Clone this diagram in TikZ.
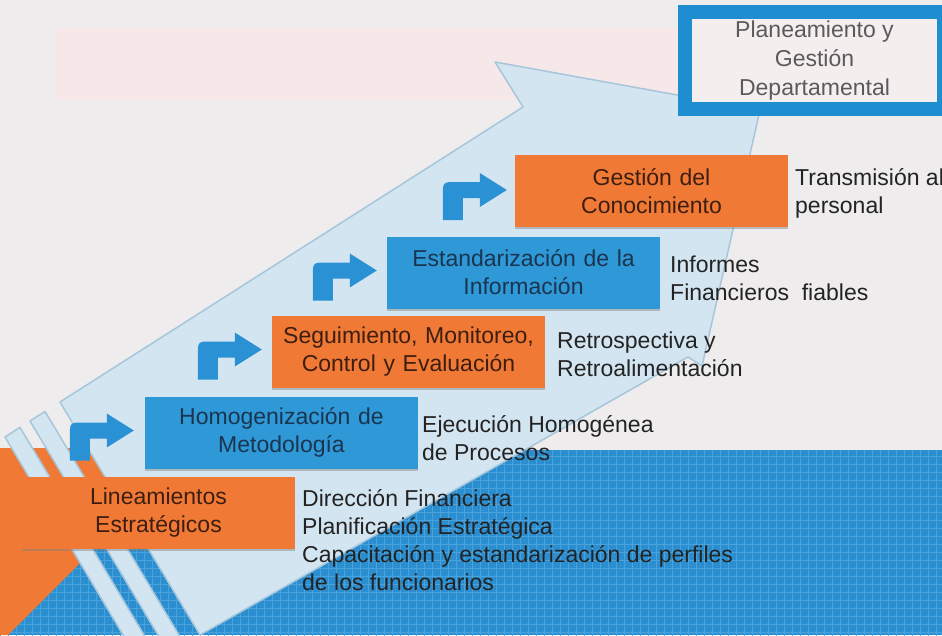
\documentclass[tikz,border=0pt]{standalone}
\usepackage{fontspec}
\setmainfont{Liberation Sans}
\usetikzlibrary{shadows}
\definecolor{bg}{HTML}{EEECEC}
\definecolor{pinkband}{HTML}{F6E7E9}
\definecolor{arrowfill}{HTML}{D3E5F1}
\definecolor{arrowline}{HTML}{A6C6DC}
\definecolor{bandblue}{HTML}{2B8ED0}
\definecolor{gridblue}{HTML}{4AA2DB}
\definecolor{boxblue}{HTML}{2F98D6}
\definecolor{boxorange}{HTML}{F07A35}
\definecolor{bentblue}{HTML}{2A92D4}
\definecolor{txtdark}{HTML}{232323}
\definecolor{txtorange}{HTML}{3E1E10}
\definecolor{txtblue}{HTML}{1A3550}
\definecolor{frameblue}{HTML}{1E8ED0}
\definecolor{frameinner}{HTML}{F4EEEF}
\definecolor{txtgrey}{HTML}{5A5A5A}
\begin{document}
\begin{tikzpicture}[x=1pt,y=-1pt,
  stepbox/.style={minimum width=273pt, minimum height=72pt, inner sep=0pt,
    text width=265pt, align=center, font=\fontsize{23}{28}\selectfont,
    drop shadow={shadow xshift=0pt, shadow yshift=-2pt, opacity=.45}},
  obox/.style={stepbox, fill=boxorange, text=txtorange},
  bbox/.style={stepbox, fill=boxblue, text=txtblue},
  side/.style={anchor=west, inner sep=0pt, align=left,
    font=\fontsize{23}{28}\selectfont, text=txtdark},
  arrowpart/.style={fill=arrowfill, draw=arrowline, line width=1.5pt, line join=round},
  bent/.pic={\fill[bentblue] (-64,30) -- (-64,6) .. controls (-64,-8) .. (-50,-8)
      -- (-27,-8) -- (-27,-17) -- (0,0) -- (-27,17) -- (-27,8) -- (-44,8) -- (-44,30) -- cycle;}
]
\useasboundingbox (0,0) rectangle (942,635);
% background
\fill[bg] (0,0) rectangle (942,635);
\fill[pinkband] (55,28) rectangle (680,100);
% bottom blue band with grid
\fill[bandblue] (0,450) rectangle (942,635);
\begin{scope}
\clip (0,450) rectangle (942,635);
\draw[gridblue, line width=0.4pt, step=8pt] (0,450) grid (942,640);
\end{scope}
% orange triangle at the left
\fill[boxorange] (0,448) -- (115,448) -- (88,555) -- (8,635) -- (0,635) -- cycle;
% big striped arrow
\draw[arrowpart] (5,437) -- (20,427.4) -- (159,660) -- (138,660) -- cycle;
\draw[arrowpart] (30,421) -- (45,411.5) -- (194,660) -- (173,660) -- cycle;
\draw[arrowpart] (60,402) -- (523,107) -- (495,62) -- (760,110) -- (702,366)
  -- (688,357) -- (200,635) -- cycle;
% top right frame
\node[draw=frameblue, line width=14pt, fill=frameinner, minimum width=259pt,
  minimum height=97pt, inner sep=0pt, align=center, text=txtgrey,
  font=\fontsize{23}{29}\selectfont] (plan) at (814.5,60.5)
  {Planeamiento y\\Gestión\\Departamental};
% steps
\node[obox] (b1) at (158.5,512.5) {Lineamientos\\Estratégicos};
\node[bbox] (b2) at (281.5,432.5) {Homogenización de\\Metodología};
\node[obox] (b3) at (408.5,351.5) {Seguimiento, Monitoreo,\\Control y Evaluación};
\node[bbox] (b4) at (523.5,272.5) {Estandarización de la\\Información};
\node[obox] (b5) at (651.5,191) {Gestión del\\Conocimiento};
% bent arrows
\pic at ([xshift=-11pt,yshift=2pt]b2.west) {bent};
\pic at ([xshift=-10pt,yshift=2pt]b3.west) {bent};
\pic at ([xshift=-10pt,yshift=2pt]b4.west) {bent};
\pic at ([xshift=-8pt,yshift=1pt]b5.west) {bent};
% side texts
\node[side] (t1) at (302,540) {Dirección Financiera\\Planificación Estratégica\\Capacitación y estandarización de perfiles\\de los funcionarios};
\node[side] (t2) at (422,438) {Ejecución Homogénea\\de Procesos};
\node[side] (t3) at (557,354) {Retrospectiva y\\Retroalimentación};
\node[side] (t4) at (670,278) {Informes\\Financieros\ \ fiables};
\node[side] (t5) at (795,193) {Transmisión al\\personal};
\end{tikzpicture}
\end{document}
